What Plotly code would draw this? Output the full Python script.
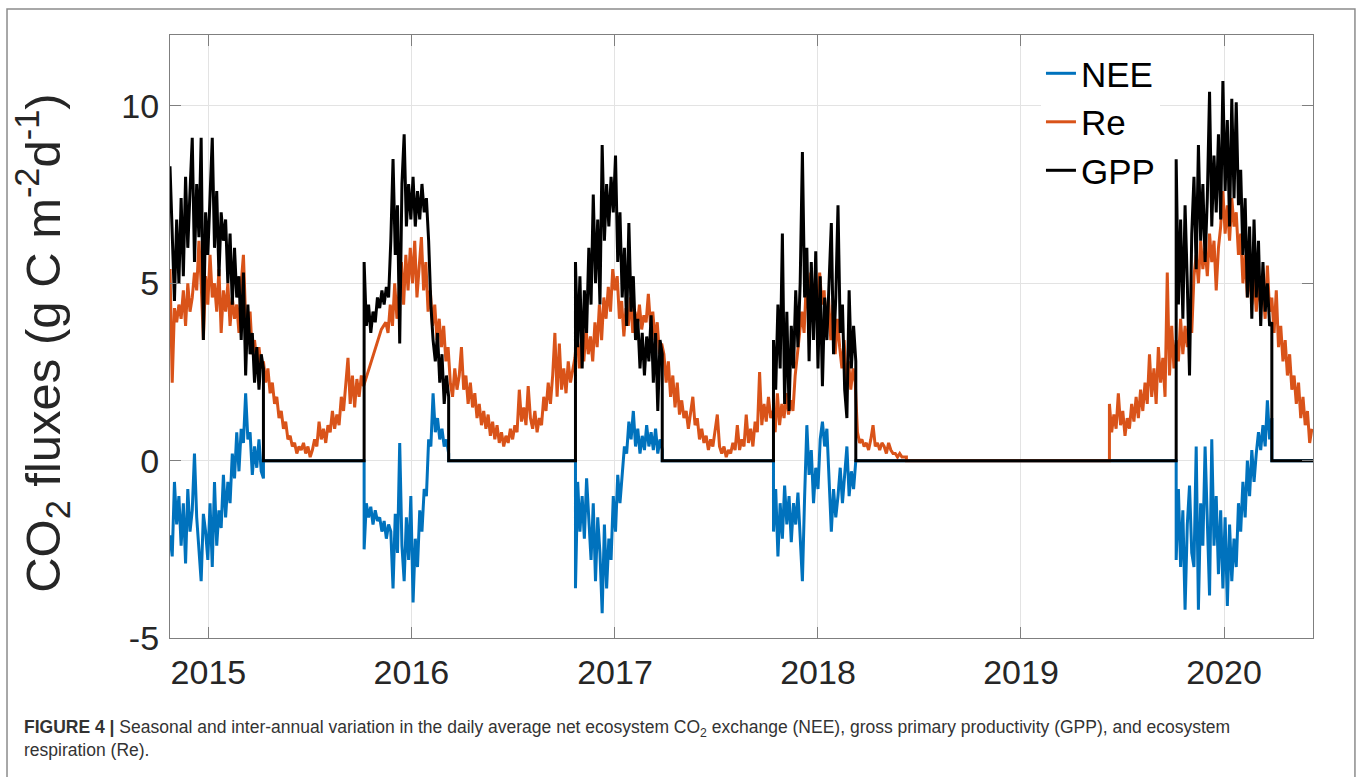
import pandas as pd
import plotly.graph_objects as go

# Daily CO2 fluxes (g C m-2 d-1), one value every 4 days.
STEP = "4D"

# ecosystem respiration, Oct 2014 -> Jun 2018, then Jun 2019 -> Jun 2020
re_start_a = "2014-10-24"
re_a = [
    5.4, 2.2, 4.3, 3.9, 4.4, 4.0, 4.8, 3.8, 5.0, 4.2,
    4.6, 5.3, 4.8, 6.2, 5.0, 3.4, 5.2, 4.4, 5.8, 4.6,
    5.0, 4.2, 5.4, 3.6, 4.8, 4.2, 5.0, 3.8, 4.6, 4.0,
    4.4, 3.6, 5.0, 5.8, 4.0, 3.6, 4.2, 3.0, 3.4, 2.8,
    3.2, 2.6, 2.8,
    2.2, 2.6, 1.9, 2.2, 1.6, 1.8, 1.2, 1.4, 0.9, 1.1,
    0.6, 0.7, 0.4, 0.5, 0.2, 0.4, 0.3, 0.5, 0.2, 0.4,
    0.1, 0.3, 0.6, 0.4, 1.1, 0.6, 0.9, 0.5, 1.0, 0.8,
    1.4, 0.9, 1.3, 1.0, 1.8, 1.4, 2.2, 2.9, 1.6, 2.4,
    1.5, 2.3, 1.8, 2.4,
    2.1, 2.3, 2.5, 2.7, 2.9, 3.1, 3.3, 3.5, 3.7, 3.8,
    3.9, 3.6, 4.4, 3.8, 5.0, 4.0, 4.8, 5.6, 4.4, 5.8,
    4.8, 6.0, 5.0, 6.2, 4.6, 5.6, 6.3, 4.8, 5.6, 4.2,
    4.8, 3.8, 4.4, 3.4, 4.0, 3.2, 3.8, 2.8, 3.2,
    2.2, 1.8, 2.6, 2.0, 2.4, 3.2, 2.0, 2.4, 1.6, 2.2,
    1.5, 1.9, 1.2, 1.6, 1.0, 1.4, 0.9, 1.3, 0.7, 1.1,
    0.6, 1.0, 0.5, 0.8, 0.4, 0.7, 0.5, 0.9, 0.6, 1.0,
    0.8, 2.0, 1.1, 1.5, 1.0, 2.1, 1.2, 0.9, 1.4, 0.8,
    1.2, 1.0, 1.8, 1.4, 2.2, 1.6, 2.4, 3.6, 1.8, 3.3,
    2.0, 2.6, 1.9, 2.8, 2.2, 2.5,
    2.9, 3.6, 2.6, 3.4, 2.8, 3.7, 3.0, 3.5, 2.8, 3.9,
    3.2, 4.4, 3.4, 4.6, 4.0, 4.9, 4.2, 5.4, 4.8, 5.2,
    4.0, 4.5, 3.5, 4.3, 3.8, 4.6, 3.6, 4.2, 3.8, 4.4,
    3.7, 4.1, 3.9, 4.7, 3.8, 4.2, 3.4, 3.9, 3.0, 3.3,
    3.0, 2.2, 2.8, 1.8, 2.4, 1.5, 2.2, 1.3, 1.7, 1.2,
    1.4, 0.9, 1.3, 1.8, 1.0, 1.2, 0.6, 0.9, 0.5, 0.7,
    0.3, 0.6, 0.4, 0.8, 1.3, 0.4, 0.2, 0.4, 0.1, 0.3,
    0.2, 0.5, 0.3, 1.0, 0.3, 0.6, 0.4, 1.3, 0.5, 0.9,
    0.4, 1.1, 0.8, 2.5, 1.0, 1.6, 1.1, 1.8, 1.2,
    1.4, 0.8, 1.9, 1.0, 1.6, 1.2, 1.9, 1.3, 1.7, 1.4,
    2.4, 3.0, 3.8, 4.2, 3.6, 5.0, 4.2, 5.3, 4.4, 5.0,
    4.0, 5.3, 4.4, 4.8, 3.6, 4.6, 3.4, 4.4, 3.0, 4.0,
    3.2, 2.6, 3.4, 2.2, 2.8, 2.0, 2.6, 2.2,
    0.8, 0.5, 0.6, 0.4, 0.5, 0.3, 0.6, 1.0, 0.4, 0.5,
    0.3, 0.5, 0.4, 0.2, 0.5, 0.3, 0.2, 0.2, 0.1, 0.2,
    0.1, 0.1, 0.1,
]
re_start_b = "2019-06-09"
re_b = [
    1.6, 0.8, 1.3, 0.9, 1.9, 1.0, 1.4, 0.7, 1.2, 0.9,
    1.6, 1.1, 1.8, 1.2, 2.0, 1.4, 2.2, 1.6, 3.0, 1.8,
    2.6, 1.6, 3.2, 2.2, 2.9, 1.8, 5.3, 2.4, 3.8, 2.6,
    3.4, 2.8, 4.0, 3.0, 3.8, 3.2, 4.2, 3.6, 5.2, 5.8,
    5.0, 6.2, 5.4, 6.0, 5.2, 6.4, 5.6, 6.2, 4.8, 6.0,
    6.6, 7.6, 6.4, 7.2, 6.2, 7.4, 6.6, 7.0, 5.8, 6.4,
    5.0, 5.8, 4.6, 5.4, 4.4, 5.2, 4.2, 5.0, 4.4, 4.8,
    4.0, 5.5, 4.2, 4.6,
    3.6, 4.8, 3.2, 3.8, 2.8, 3.4, 2.4, 3.0, 2.0, 2.4,
    1.6, 2.2, 1.2, 1.8, 1.0, 1.4, 0.5, 0.9,
]

# growing seasons: first day of each, GPP and NEE (zero outside the seasons)
season_starts = ["2014-10-24", "2015-10-08", "2016-10-22", "2017-10-13", "2019-10-07"]
axis_end = "2020-06-09"

gpp_s1 = [8.3, 6.2, 4.5, 6.8, 5.0, 7.4, 5.2, 8.0, 6.0, 7.6,
          9.1, 5.6, 7.8, 6.3, 9.1, 3.4, 7.0, 5.8, 7.4, 9.1,
          6.0, 7.6, 5.2, 7.0, 6.2, 6.8, 5.0, 6.4, 4.4, 6.0,
          4.6, 5.2, 3.4, 5.3, 2.4, 4.4, 3.0, 3.6, 2.2, 3.2,
          2.0, 3.0, 2.6]
gpp_s2 = [5.6, 3.8, 4.4, 3.6, 4.2, 3.9, 4.6, 4.3, 4.8, 4.4,
          4.9, 4.6, 6.2, 8.5, 5.8, 7.2, 3.3, 7.8, 9.2, 6.6,
          7.8, 6.8, 8.0, 6.6, 7.6, 6.8, 7.8, 7.0, 7.4, 6.2,
          4.4, 3.4, 2.8, 3.6, 2.2, 3.0, 1.6, 2.4, 1.8]
gpp_s3 = [5.6, 3.2, 5.2, 2.6, 4.8, 3.6, 6.0, 4.4, 7.5, 5.0,
          6.8, 4.4, 8.9, 6.2, 7.8, 6.6, 8.0, 7.0, 8.6, 5.6,
          7.0, 4.6, 6.0, 3.8, 6.7, 4.2, 5.2, 3.4, 4.0, 2.6,
          3.6, 2.4, 3.5, 2.8, 4.1, 2.2, 3.6, 1.4, 3.4, 3.0]
gpp_s4 = [3.4, 2.0, 4.4, 2.6, 6.4, 1.6, 4.2, 1.4, 3.8, 2.6,
          4.8, 3.2, 5.0, 8.7, 4.6, 6.0, 2.8, 5.6, 3.4, 5.9,
          2.6, 5.2, 2.1, 4.6, 3.4, 5.0, 6.7, 3.0, 4.6, 7.2,
          3.6, 4.4, 2.0, 1.2, 4.8, 2.6, 3.8, 2.8]
gpp_s5 = [8.5, 4.4, 6.8, 4.0, 7.2, 5.0, 2.4, 6.4, 8.0, 5.4,
          8.9, 6.2, 7.8, 5.6, 7.4, 10.4, 6.6, 8.6, 7.0, 9.2,
          6.8, 10.7, 7.6, 9.6, 6.6, 10.2, 7.4, 10.1, 7.2, 8.2,
          5.8, 7.4, 4.6, 6.6, 4.0, 6.8, 4.6, 6.2, 3.8, 5.6,
          4.2, 5.0, 3.8, 3.9]

nee_s1 = [-2.1, -2.7, -0.6, -1.8, -1.0, -2.4, -1.2, -2.9, -0.8, -2.0,
          -1.4, 0.2, -1.6, -2.4, -3.4, -1.5, -2.0, -2.8, -1.2, -3.0,
          -0.6, -2.4, -1.4, -1.9, -0.4, -1.6, -0.6, -1.2, 0.2, -0.5,
          0.8, -0.3, 0.9, 0.5, 1.9, 0.6, 0.8, -0.4, 0.4, -0.2,
          0.6, -0.3, -0.5]
nee_s2 = [-2.5, -1.2, -1.6, -1.3, -1.8, -1.4, -1.7, -1.6, -2.0, -1.7,
          -2.2, -1.8, -2.0, -3.6, -1.5, -2.6, 0.5, -2.4, -3.4, -1.6,
          -2.8, -1.0, -4.0, -2.2, -3.0, -1.4, -2.0, -0.8, -1.0, 0.6,
          0.4, 1.9, 0.8, 1.2, 0.6, 0.9, 0.4, 0.6, 0.2]
nee_s3 = [-3.6, -0.6, -2.0, -1.0, -2.2, -0.5, -1.8, -2.8, -1.2, -3.4,
          -1.6, -2.6, -4.3, -1.8, -3.6, -2.2, -2.8, -1.0, -2.0, -0.4,
          -1.2, -0.3, 0.4, 0.2, 1.1, 0.6, 1.4, 0.4, 0.9, 0.2,
          0.7, 0.3, 1.0, 0.4, 0.8, 0.3, 0.9, 0.2, 0.6, 0.3]
nee_s4 = [-2.0, -0.8, -2.7, -1.2, -2.2, -0.7, -1.8, -1.0, -2.3, -1.2,
          -1.8, -0.9, -2.0, -3.4, -1.0, 1.0, -0.4, 0.3, -1.2, -0.2,
          -0.8, 0.6, 1.1, 0.4, 0.9, -0.6, -2.0, -0.8, -1.6, -1.0,
          -0.2, -1.2, -0.4, 0.4, -1.0, -0.3, -0.8, -0.2]
nee_s5 = [-2.8, -0.8, -3.0, -1.4, -4.2, -1.8, -0.7, -2.6, -3.0, 0.4,
          -4.2, -1.2, -2.4, 0.4, -1.8, -3.8, 0.6, -2.4, -1.0, -3.2,
          -1.4, -3.6, -1.6, -4.1, -1.8, -3.4, -2.2, -3.0, -1.2, -2.0,
          -0.6, -1.6, 0.0, -1.0, 0.3, -0.6, 0.2, 0.8, 0.3, 1.0,
          0.4, 1.7, 0.6, 1.2]

year_ticks = ["2015-01-01", "2016-01-01", "2017-01-01", "2018-01-01", "2019-01-01", "2020-01-01"]
year_labels = ["2015", "2016", "2017", "2018", "2019", "2020"]
y_ticks = [-5, 0, 5, 10]
y_labels = ["-5", "0", "5", "10"]

FONT = "Liberation Sans, Arial, Helvetica, sans-serif"
LW = 3.0


def seasonal(blocks):
    # stitch the seasons together with zero between them
    xs, ys = [], []
    for k, (start, vals) in enumerate(zip(season_starts, blocks)):
        d = list(pd.date_range(start, periods=len(vals), freq=STEP))
        if k > 0:
            xs.append(d[0]); ys.append(0.0)
        xs += d + [d[-1]]
        ys += vals + [0.0]
    xs.append(pd.Timestamp(axis_end)); ys.append(0.0)
    return xs, ys


nee_x, nee_y = seasonal([nee_s1, nee_s2, nee_s3, nee_s4, nee_s5])
gpp_x, gpp_y = seasonal([gpp_s1, gpp_s2, gpp_s3, gpp_s4, gpp_s5])

da = list(pd.date_range(re_start_a, periods=len(re_a), freq=STEP))
db = list(pd.date_range(re_start_b, periods=len(re_b), freq=STEP))
re_x = da + [da[-1], db[0]] + db
re_y = re_a + [0.0, 0.0] + re_b

fig = go.Figure()
fig.add_trace(go.Scatter(x=nee_x, y=nee_y, mode="lines", name="NEE",
                         line=dict(color="#0072BD", width=LW)))
fig.add_trace(go.Scatter(x=re_x, y=re_y, mode="lines", name="Re",
                         line=dict(color="#D95319", width=LW)))
fig.add_trace(go.Scatter(x=gpp_x, y=gpp_y, mode="lines", name="GPP",
                         line=dict(color="black", width=LW)))

axis_style = dict(
    showline=True, linecolor="#7f7f7f", linewidth=1.2, mirror="allticks",
    ticks="inside", ticklen=11, tickcolor="#7f7f7f",
    showgrid=True, gridcolor="#e3e3e3", gridwidth=1, zeroline=False,
    tickfont=dict(family=FONT, size=34, color="#262626"),
)

fig.update_layout(
    width=1358, height=777,
    margin=dict(l=170, r=45, t=35, b=139),
    paper_bgcolor="white", plot_bgcolor="white",
    font=dict(family=FONT, color="#262626"),
    showlegend=True,
    legend=dict(x=0.762, y=0.985, xanchor="left", yanchor="top",
                bgcolor="white", borderwidth=0,
                font=dict(family=FONT, size=35, color="black"),
                tracegroupgap=0),
    xaxis=dict(range=[re_start_a, axis_end], tickmode="array",
               tickvals=year_ticks, ticktext=year_labels,
               ticklabelstandoff=4, **axis_style),
    yaxis=dict(range=[-5, 12], tickmode="array", tickvals=y_ticks,
               ticktext=y_labels, ticklabelstandoff=3, **axis_style),
)

# y-axis title
fig.add_annotation(
    text="CO<sub>2</sub> fluxes (g C m<sup>-2</sup>d<sup>-1</sup>)",
    xref="paper", yref="paper", x=-0.111, y=0.488,
    xanchor="center", yanchor="middle", textangle=-90, showarrow=False,
    font=dict(family=FONT, size=49, color="#262626"),
)

# figure caption
fig.add_annotation(
    text="<b>FIGURE 4 |</b> Seasonal and inter-annual variation in the daily average net "
         "ecosystem CO<sub>2</sub> exchange (NEE), gross primary productivity (GPP), and ecosystem"
         "<br>respiration (Re).",
    xref="paper", yref="paper", x=-0.1295, y=-0.128,
    xanchor="left", yanchor="top", align="left", showarrow=False,
    font=dict(family=FONT, size=17.5, color="#333333"),
)

# outer frame of the figure panel
fig.add_shape(type="rect", xref="paper", yref="paper",
              x0=-0.1426, x1=1.0367, y0=-0.30, y1=1.0431,
              line=dict(color="#8c8c8c", width=1.5), fillcolor="rgba(0,0,0,0)",
              layer="below")

fig.write_html("out.html", config={"displayModeBar": False},
               post_script="document.body.style.margin='0';document.body.style.overflow='hidden';")
